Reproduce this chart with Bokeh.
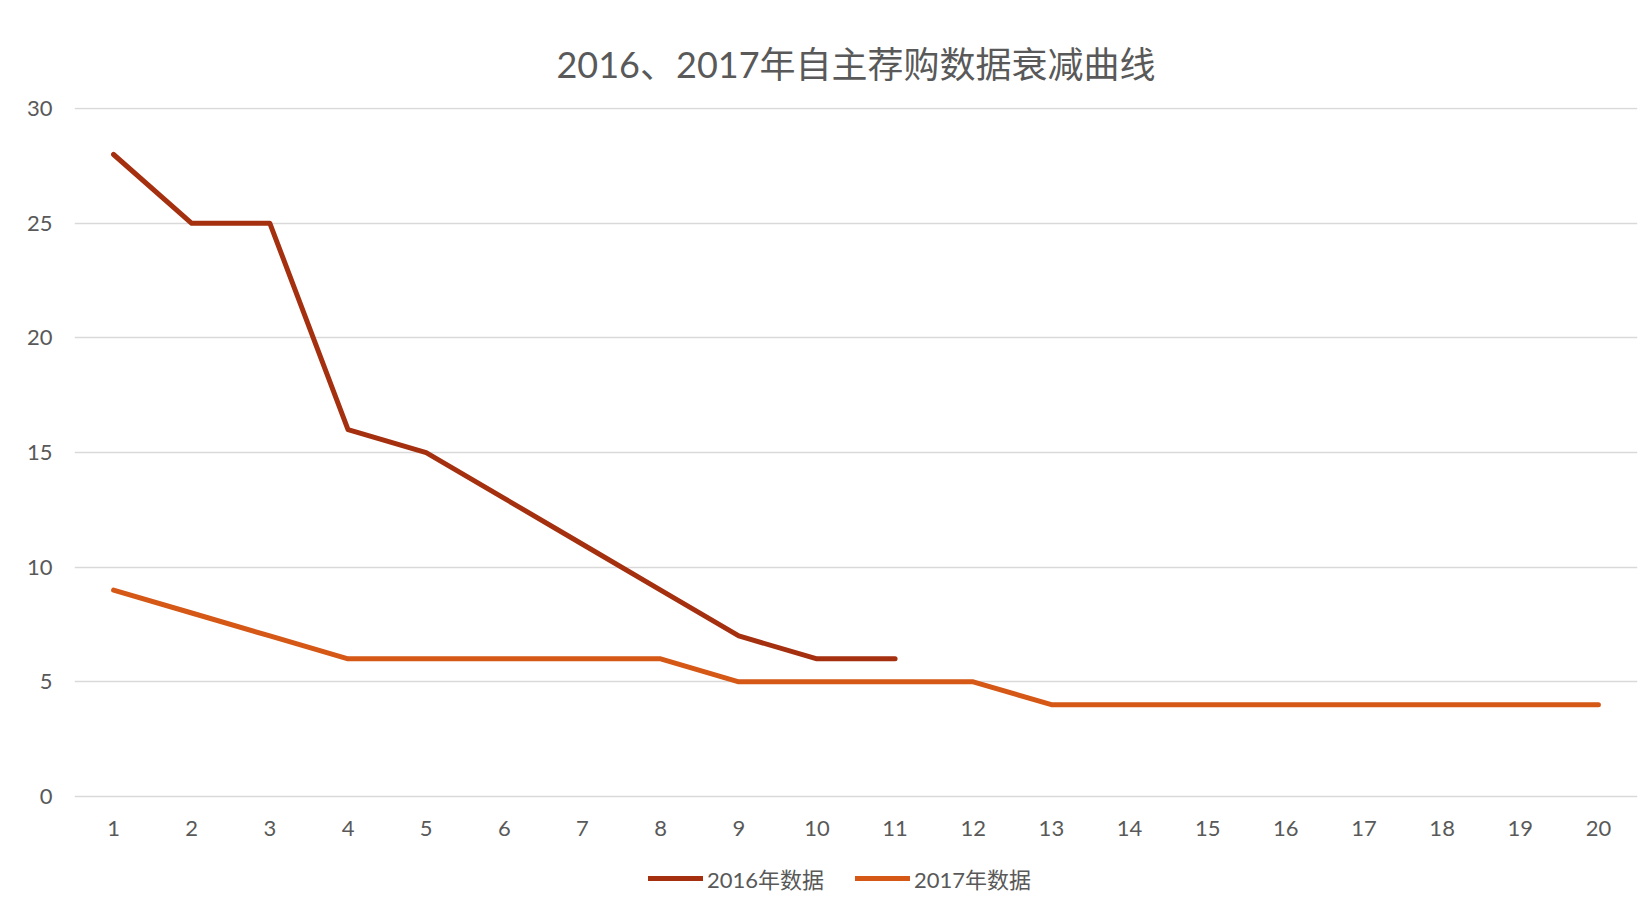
from bokeh.plotting import figure
from bokeh.models import Range1d, FixedTicker, Legend, LegendItem, ColumnDataSource
from bokeh.core.properties import value
from bokeh.embed import file_html
from bokeh.resources import INLINE

categories = list(range(1, 21))
x_labels = [str(c) for c in categories]
x_2016 = list(range(1, 12))
y_2016 = [28, 25, 25, 16, 15, 13, 11, 9, 7, 6, 6]
x_2017 = list(range(1, 21))
y_2017 = [9, 8, 7, 6, 6, 6, 6, 6, 5, 5, 5, 5, 4, 4, 4, 4, 4, 4, 4, 4]
y_ticks = [0, 5, 10, 15, 20, 25, 30]

FONT = "Lato, 'Noto Sans CJK SC', sans-serif"
TXT = "#595959"

p = figure(width=1647, height=914, output_backend="svg", toolbar_location=None,
           x_range=Range1d(0.5, 20.5), y_range=Range1d(-5.15, 30.05),
           min_border_left=74, min_border_right=10, min_border_top=107, min_border_bottom=0,
           title="2016、2017年自主荐购数据衰减曲线")
p.outline_line_color = None
p.background_fill_color = "white"
p.border_fill_color = "white"

p.title.align = "center"
p.title.text_font = FONT
p.title.text_font_size = "36px"
p.title.text_font_style = "normal"
p.title.text_color = TXT
p.title.standoff = 43

p.xaxis.visible = False
p.yaxis.ticker = FixedTicker(ticks=y_ticks)
ax = p.yaxis[0]
ax.axis_line_color = None
ax.major_tick_line_color = None
ax.minor_tick_line_color = None
ax.major_tick_out = 0
ax.major_tick_in = 0
ax.major_label_text_font = FONT
ax.major_label_text_font_size = "22px"
ax.major_label_text_color = TXT
ax.major_label_standoff = 22
p.xgrid.grid_line_color = None
p.ygrid.grid_line_color = "#D9D9D9"
p.ygrid.grid_line_width = 1.5

# category labels along the value-0 baseline
lab = ColumnDataSource(dict(x=categories, y=[0] * len(categories), t=x_labels))
p.text("x", "y", text="t", source=lab, y_offset=32, text_align="center", text_baseline="middle",
       text_font_size="22px", text_color=TXT, text_font=value(FONT))

s16 = ColumnDataSource(dict(x=x_2016, y=y_2016))
s17 = ColumnDataSource(dict(x=x_2017, y=y_2017))
r16 = p.line("x", "y", source=s16, line_color="#A5300F", line_width=5, line_cap="round", line_join="round")
r17 = p.line("x", "y", source=s17, line_color="#D55816", line_width=5, line_cap="round", line_join="round")

legend = Legend(items=[LegendItem(label="2016年数据", renderers=[r16]),
                       LegendItem(label="2017年数据", renderers=[r17])],
                orientation="horizontal", location=(574, 20),
                glyph_width=55, glyph_height=24, label_standoff=4, spacing=31,
                padding=0, margin=0, border_line_color=None, background_fill_alpha=0,
                label_text_font=FONT, label_text_font_size="22px", label_text_color=TXT)
p.add_layout(legend, "center")

open("out.html", "w").write(file_html(p, INLINE))
